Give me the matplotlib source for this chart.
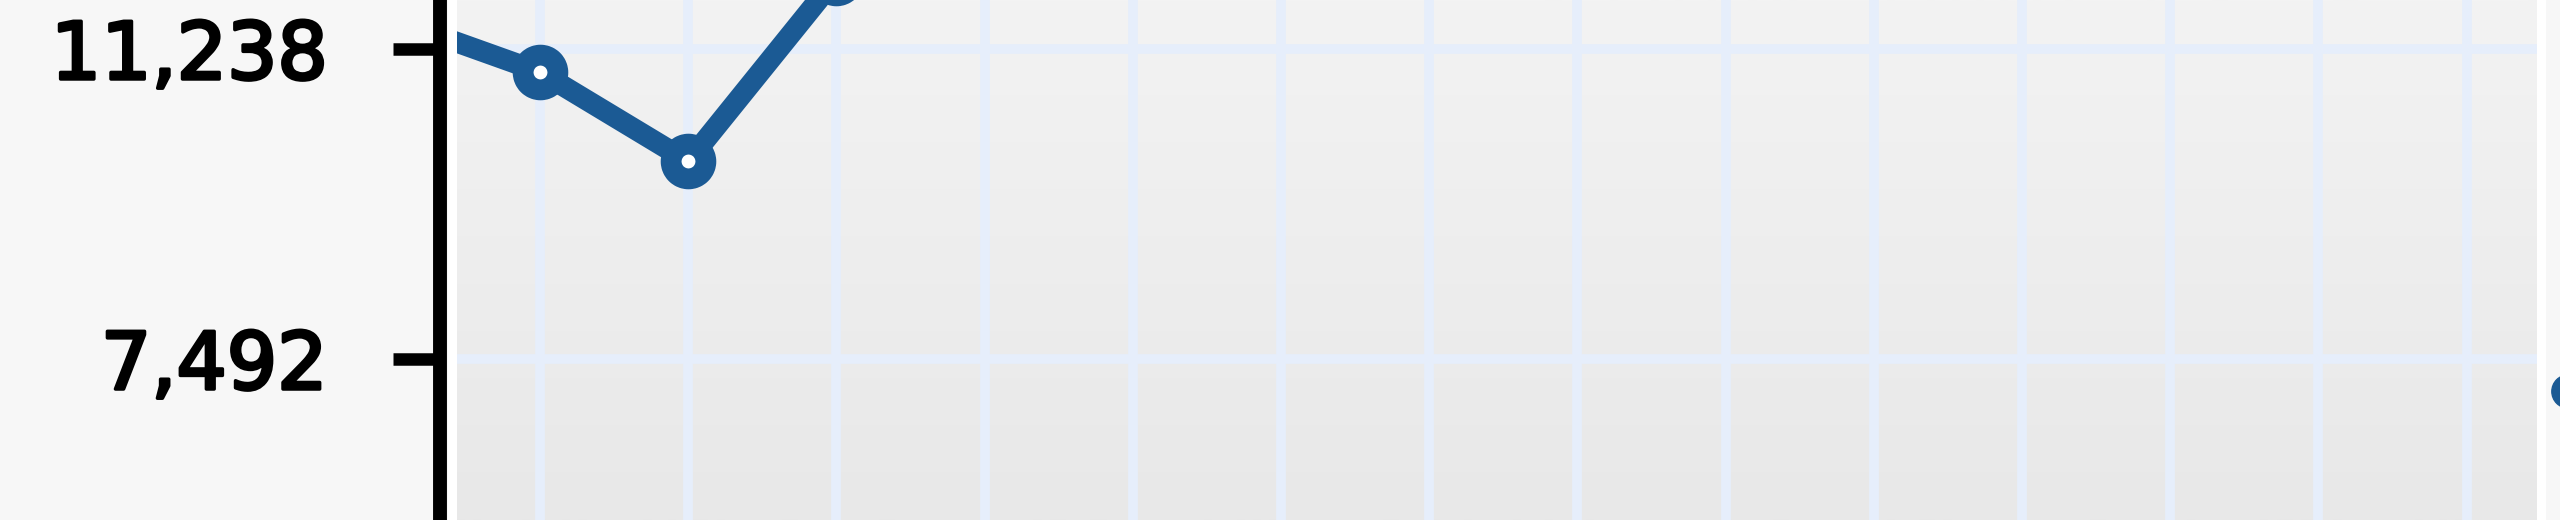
import numpy as np
import matplotlib
matplotlib.use('Agg')
import matplotlib.pyplot as plt
import matplotlib.patheffects as pe
from matplotlib.colors import LinearSegmentedColormap
from matplotlib.lines import Line2D
from matplotlib.ticker import FuncFormatter

categories = list(range(16))
values = [11600, 10960, 9880, 12100, 12800, 13500, 14100, 13700, 14600, 15300,
          14900, 15800, 16400, 16000, 16800, 17200]
y_ticks = [7492, 11238]
y_range = (5547, 11830)
x_range = (0.44, 14.475)

line_color = '#1b5a94'
W, H = 2560, 520

fig = plt.figure(figsize=(W / 100, H / 100), dpi=100, facecolor='#f7f7f7')
ax = fig.add_axes([457 / W, 0, (2537 - 457) / W, 1])

# plot background: soft vertical grey gradient with a white rim
grad = LinearSegmentedColormap.from_list('bg', ['#f3f3f3', '#e8e8e8'])
ax.imshow(np.linspace(0, 1, 256).reshape(-1, 1), cmap=grad, aspect='auto',
          extent=[0, 1, 0, 1], transform=ax.transAxes, zorder=0)
ax.patch.set_edgecolor('white')
ax.patch.set_linewidth(13)

ax.plot(categories, values, color=line_color, lw=15, marker='o', ms=25, mew=15,
        mfc='white', mec=line_color, solid_capstyle='round', zorder=3)

ax.set_xticks(categories)
ax.set_yticks(y_ticks)
ax.set_xlim(*x_range)
ax.set_ylim(*y_range)
ax.yaxis.set_major_formatter(FuncFormatter(lambda v, p: f'{v:,.0f}'))
ax.grid(True, color='#e6eefb', lw=7, zorder=1)
ax.set_axisbelow(True)

for s in ['top', 'right', 'bottom']:
    ax.spines[s].set_visible(False)
ax.spines['left'].set_position(('outward', 12.2))
ax.spines['left'].set_linewidth(10)
ax.spines['left'].set_color('black')

ax.tick_params(axis='x', length=0, labelbottom=False)
ax.tick_params(axis='y', length=34, width=9, color='black', pad=47,
               labelsize=57, labelcolor='black')
for lab in ax.get_yticklabels():
    lab.set_path_effects([pe.withStroke(linewidth=2.5, foreground='black')])

# legend swatch peeking in at the right edge
h = Line2D([], [], lw=0, marker='o', ms=24, color=line_color)
fig.legend(handles=[h], labels=[''], loc='center left',
           bbox_to_anchor=(2554.6 / W, 1 - 393 / H), frameon=False,
           borderpad=0, borderaxespad=0, handlelength=1, handletextpad=0,
           fontsize=20, numpoints=1)

fig.savefig('out.png', dpi=100, facecolor=fig.get_facecolor())
